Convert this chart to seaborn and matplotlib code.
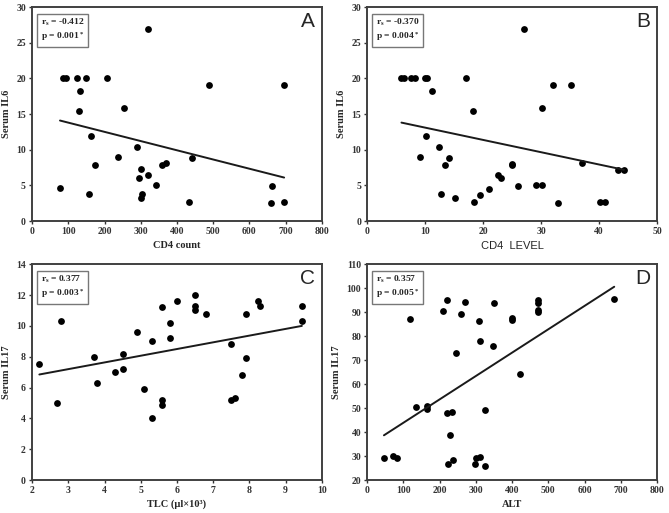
import matplotlib
matplotlib.use("Agg")
import numpy as np
import pandas as pd
import seaborn as sns
import matplotlib.pyplot as plt

# --- data ---

cd4_count = [77, 86, 93, 124, 149, 208, 132, 130, 162, 175, 156, 253, 237, 289, 321,
             295, 302, 303, 302, 320, 342, 360, 369, 442, 433, 488, 662, 661, 696, 696]
il6_a = [4.6, 20.1, 20.1, 20.1, 20.1, 20.1, 18.2, 15.4, 11.9, 7.9, 3.8, 15.9, 9.0, 10.4, 26.9,
         6.0, 7.3, 3.8, 3.2, 6.5, 5.1, 7.8, 8.1, 8.9, 2.7, 19.1, 4.9, 2.5, 19.1, 2.7]

cd4_level = [5.9, 6.4, 7.5, 8.2, 9.9, 10.3, 11.1, 10.2, 9.1, 12.3, 13.4, 14.1, 12.8, 15.2,
             17.0, 18.2, 18.5, 19.4, 21.0, 22.5, 23.0, 25.0, 25.0, 26.1, 27.1, 29.1, 30.1,
             30.1, 32.1, 35.2, 33.0, 37.1, 40.2, 41.1, 43.2, 44.3]
il6_b = [20.1, 20.1, 20.1, 20.1, 20.1, 20.1, 18.2, 11.9, 9.0, 10.4, 7.9, 8.9, 3.8, 3.2,
         20.1, 15.4, 2.7, 3.7, 4.5, 6.5, 6.0, 7.8, 8.0, 4.9, 26.9, 5.1, 5.1,
         15.9, 19.1, 19.1, 2.5, 8.1, 2.7, 2.7, 7.2, 7.2]

tlc = [2.2, 2.7, 2.8, 3.7, 3.8, 4.3, 4.5, 4.5, 4.9, 5.1, 5.3, 5.3, 5.6, 5.6, 5.6, 5.8,
       5.8, 6.0, 6.5, 6.5, 6.5, 6.8, 7.5, 7.5, 7.6, 7.8, 7.9, 7.9, 8.25, 8.3, 9.45, 9.45]
il17_c = [7.5, 5.0, 10.3, 8.0, 6.3, 7.0, 8.2, 7.2, 9.6, 5.9, 9.0, 4.0, 11.2, 5.2, 4.9, 10.2,
          9.2, 11.6, 12.0, 11.3, 11.0, 10.8, 8.8, 5.2, 5.3, 6.8, 10.8, 7.9, 11.6, 11.3, 11.3, 10.3]

alt = [46, 71, 81, 119, 135, 166, 166, 210, 219, 221, 233, 229, 224, 237, 245, 258, 271,
       297, 301, 311, 309, 312, 325, 325, 346, 351, 399, 399, 421, 471, 472, 472, 472, 682]
il17_d = [29.1, 29.9, 29.1, 87.2, 50.5, 50.9, 49.5, 90.4, 95.0, 47.8, 48.6, 39.0, 26.7, 28.5,
          73.0, 89.2, 94.1, 26.7, 29.4, 29.5, 86.2, 77.9, 26.1, 49.3, 75.8, 93.9, 87.5, 86.7,
          64.2, 94.9, 93.9, 91.1, 90.2, 95.7]

# trend lines as printed in the figure (slope, intercept)
fit_slope = [-0.01292, -0.1723, 0.4345, 0.09733]
fit_intercept = [15.10, 14.83, 5.894, 34.22]

panel_letters = ["A", "B", "C", "D"]
x_labels = ["CD4 count", "CD4  LEVEL", "TLC (\u00b5l\u00d710\u00b3)", "ALT"]
y_labels = ["Serum IL6", "Serum IL6", "Serum IL17", "Serum IL17"]
r_values = ["-0.412", "-0.370", "0.377", "0.357"]
p_values = ["0.001", "0.004", "0.003", "0.005"]

sns.set_theme(style="white")
plt.rcParams["font.family"] = ["Liberation Serif", "DejaVu Serif"]
plt.rcParams["font.weight"] = "bold"
plt.rcParams["mathtext.fontset"] = "custom"
plt.rcParams["mathtext.rm"] = "Liberation Serif:bold"
plt.rcParams["mathtext.default"] = "rm"

fig = plt.figure(figsize=(6.69, 5.13), dpi=100)
boxes = [
    [0.048, 0.569, 0.433, 0.417],
    [0.549, 0.569, 0.433, 0.417],
    [0.048, 0.064, 0.433, 0.421],
    [0.549, 0.064, 0.433, 0.421],
]
series = [(cd4_count, il6_a), (cd4_level, il6_b), (tlc, il17_c), (alt, il17_d)]
limits = [((0, 800), (0, 30)), ((0, 50), (0, 30)), ((2, 10), (0, 14)), ((0, 800), (20, 110))]
steps = [(100, 5), (10, 5), (1, 2), (100, 10)]

for i, (xs, ys) in enumerate(series):
    ax = fig.add_axes(boxes[i])
    df = pd.DataFrame({"x": xs, "y": ys})
    sns.scatterplot(data=df, x="x", y="y", ax=ax, color="black", s=24,
                    linewidth=0, alpha=1)
    ends = np.array([min(xs), max(xs)])
    trend = pd.DataFrame({"x": ends, "y": fit_intercept[i] + fit_slope[i] * ends})
    sns.lineplot(data=trend, x="x", y="y", ax=ax, color="#1a1a1a", lw=1.4)

    (x0, x1), (y0, y1) = limits[i]
    ax.set_xlim(x0, x1)
    ax.set_ylim(y0, y1)
    ax.set_xticks(np.arange(x0, x1 + 0.001, steps[i][0]))
    ax.set_yticks(np.arange(y0, y1 + 0.001, steps[i][1]))
    ax.tick_params(direction="out", length=2.5, width=1, labelsize=7, pad=2,
                   colors="#333333", bottom=True, left=True)
    for lab in ax.get_xticklabels() + ax.get_yticklabels():
        lab.set_fontweight("bold")
    for sp in ax.spines.values():
        sp.set_color("#404040")
        sp.set_linewidth(1.4)

    if i == 1:
        ax.set_xlabel(x_labels[i], fontsize=8, fontweight="normal",
                      family=["Liberation Sans"], labelpad=3)
    else:
        ax.set_xlabel(x_labels[i], fontsize=7.5, fontweight="bold", labelpad=3)
    ax.set_ylabel(y_labels[i], fontsize=7.5, fontweight="bold", labelpad=4)

    ax.text(0.03, 0.955, "r$_s$ = " + r_values[i] + "\np = " + p_values[i] + "$^*$",
            transform=ax.transAxes, fontsize=6.8, fontweight="bold", va="top", ha="left",
            linespacing=1.2,
            bbox=dict(boxstyle="square,pad=0.4", fc="white", ec="#777777", lw=1))
    ax.text(0.952, 0.935, panel_letters[i], transform=ax.transAxes, fontsize=15,
            family=["Liberation Sans"], fontweight="normal", va="center", ha="center")

fig.savefig("out.png", dpi=100)
